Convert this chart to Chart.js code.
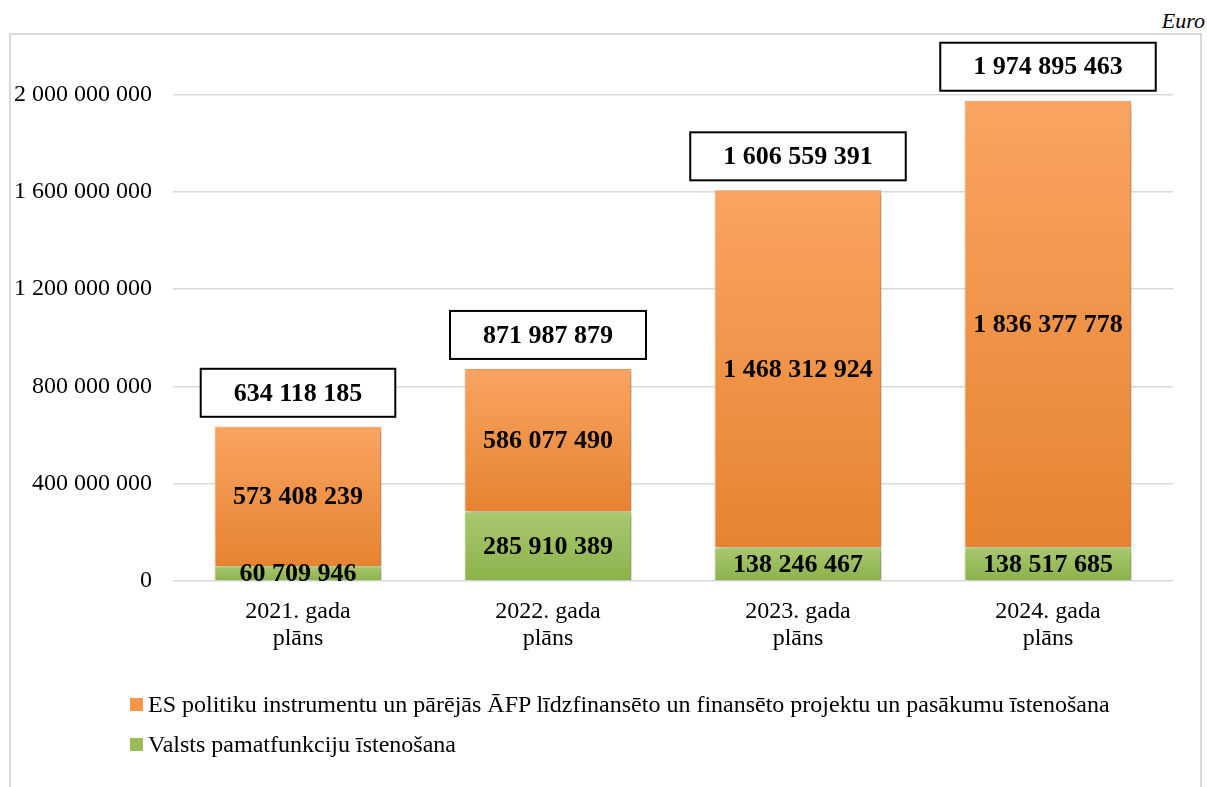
<!DOCTYPE html>
<html>
<head>
<meta charset="utf-8">
<script src="https://cdn.jsdelivr.net/npm/chart.js@4.4.1/dist/chart.umd.min.js"></script>
<style>
    body { margin: 0; background: #fff; width: 1207px; height: 787px; overflow: hidden; position: relative;
        font-family: "Liberation Serif", "Times New Roman", serif; color: #000; }
    #frame { position: absolute; left: 9px; top: 33px; width: 1189px; height: 800px;
        border: 2px solid #d9d9d9; border-bottom: none; }
    #unit { position: absolute; right: 2px; top: 8px; font-style: italic; font-size: 22px; }
    #chart { position: absolute; left: 0; top: 0; }
    #legend { position: absolute; left: 130px; top: 684px; font-size: 24px; }
    .item { display: flex; align-items: center; height: 40px; }
    .swatch { width: 13px; height: 13px; margin-right: 5px; }
</style>
</head>
<body>
<div id="frame"></div>
<div id="unit">Euro</div>
<canvas id="chart" width="1207" height="787"></canvas>
<div id="legend"></div>
<script>
const categories = [['2021. gada', 'plāns'], ['2022. gada', 'plāns'], ['2023. gada', 'plāns'], ['2024. gada', 'plāns']];
const valstsValues = [60709946, 285910389, 138246467, 138517685];
const esValues = [573408239, 586077490, 1468312924, 1836377778];
const totalValues = [634118185, 871987879, 1606559391, 1974895463];
const yTicks = [0, 400000000, 800000000, 1200000000, 1600000000, 2000000000];

const VALSTS_LABEL = 'Valsts pamatfunkciju īstenošana';
const ES_LABEL = 'ES politiku instrumentu un pārējās ĀFP līdzfinansēto un finansēto projektu un pasākumu īstenošana';

const fmt = (v) => String(v).replace(/\B(?=(\d{3})+(?!\d))/g, ' ');

// vertical gradient per bar segment, light on top, darker at the bottom
function barFill(topColor, bottomColor, lowerValues) {
    return (c) => {
        const chart = c.chart;
        const y = chart.scales.y;
        if (c.type !== 'data' || !y) return bottomColor;
        const lo = lowerValues ? lowerValues[c.dataIndex] : 0;
        const hi = lo + c.dataset.data[c.dataIndex];
        const y0 = y.getPixelForValue(hi);
        const y1 = y.getPixelForValue(lo);
        if (!Number.isFinite(y0) || !Number.isFinite(y1)) return bottomColor;
        const g = chart.ctx.createLinearGradient(0, y0, 0, y1);
        g.addColorStop(0, topColor);
        g.addColorStop(1, bottomColor);
        return g;
    };
}

const shadowPlugin = {
    id: 'barShadow',
    beforeDatasetDraw(chart) {
        const ctx = chart.ctx;
        ctx.save();
        ctx.shadowColor = 'rgba(0, 0, 0, 0.35)';
        ctx.shadowBlur = 6;
        ctx.shadowOffsetX = 4;
        ctx.shadowOffsetY = 2;
    },
    afterDatasetDraw(chart) {
        chart.ctx.restore();
    },
};

const labelPlugin = {
    id: 'valueLabels',
    afterDatasetsDraw(chart) {
        const ctx = chart.ctx;
        ctx.save();
        ctx.font = 'bold 26px "Liberation Serif"';
        ctx.textAlign = 'center';
        ctx.textBaseline = 'middle';
        ctx.fillStyle = '#000';
        chart.data.datasets.forEach((ds, di) => {
            chart.getDatasetMeta(di).data.forEach((bar, i) => {
                ctx.fillText(fmt(ds.data[i]), bar.x, (bar.y + bar.base) / 2 + 1);
            });
        });

        const topBars = chart.getDatasetMeta(1).data;
        totalValues.forEach((v, i) => {
            const text = fmt(v);
            const w = ctx.measureText(text).width + 66;
            const h = 48;
            const bar = topBars[i];
            const bx = bar.x - w / 2;
            const by = bar.y - 10 - h;
            ctx.fillStyle = '#fff';
            ctx.fillRect(bx, by, w, h);
            ctx.lineWidth = 2;
            ctx.strokeStyle = '#000';
            ctx.strokeRect(bx, by, w, h);
            ctx.fillStyle = '#000';
            ctx.fillText(text, bar.x, by + h / 2 + 1);
        });
        ctx.restore();
    },
};

const datasets = [
    {
        label: VALSTS_LABEL,
        data: valstsValues,
        legendColor: '#9bbb59',
        backgroundColor: barFill('#a9c871', '#8bb24a', null),
        borderColor: '#a5c46a',
        borderWidth: 1,
    },
    {
        label: ES_LABEL,
        data: esValues,
        legendColor: '#f79646',
        backgroundColor: barFill('#f9a462', '#e6832f', valstsValues),
        borderColor: '#f8a060',
        borderWidth: 1,
    },
];

const chart = new Chart(document.getElementById('chart'), {
    type: 'bar',
    data: { labels: categories, datasets },
    options: {
        responsive: false,
        animation: false,
        events: [],
        datasets: { bar: { categoryPercentage: 1, barPercentage: 0.667 } },
        layout: { padding: { left: 0, right: 34, top: 46, bottom: 126 } },
        scales: {
            x: {
                stacked: true,
                grid: { display: false, drawTicks: false },
                border: { display: false },
                ticks: {
                    color: '#000',
                    padding: 17,
                    font: { family: '"Liberation Serif"', size: 24, lineHeight: 1.13 },
                },
                afterFit: (s) => { s.height = 80; },
            },
            y: {
                stacked: true,
                min: 0,
                max: 2200000000,
                grid: { color: '#d9d9d9', lineWidth: 1.5, drawTicks: false },
                border: { display: false },
                ticks: {
                    color: '#000',
                    padding: 21,
                    font: { family: '"Liberation Serif"', size: 24 },
                    callback: (v) => fmt(v),
                },
                afterBuildTicks: (s) => { s.ticks = yTicks.map((v) => ({ value: v })); },
                afterFit: (s) => { s.width = 173; },
            },
        },
        plugins: {
            legend: { display: false },
            tooltip: { enabled: false },
        },
    },
    plugins: [shadowPlugin, labelPlugin],
});
chart.update();

const legend = document.getElementById('legend');
[datasets[1], datasets[0]].forEach((ds) => {
    const item = document.createElement('div');
    item.className = 'item';
    const sw = document.createElement('span');
    sw.className = 'swatch';
    sw.style.background = ds.legendColor;
    const txt = document.createElement('span');
    txt.textContent = ds.label;
    item.append(sw, txt);
    legend.append(item);
});
</script>
</body>
</html>
